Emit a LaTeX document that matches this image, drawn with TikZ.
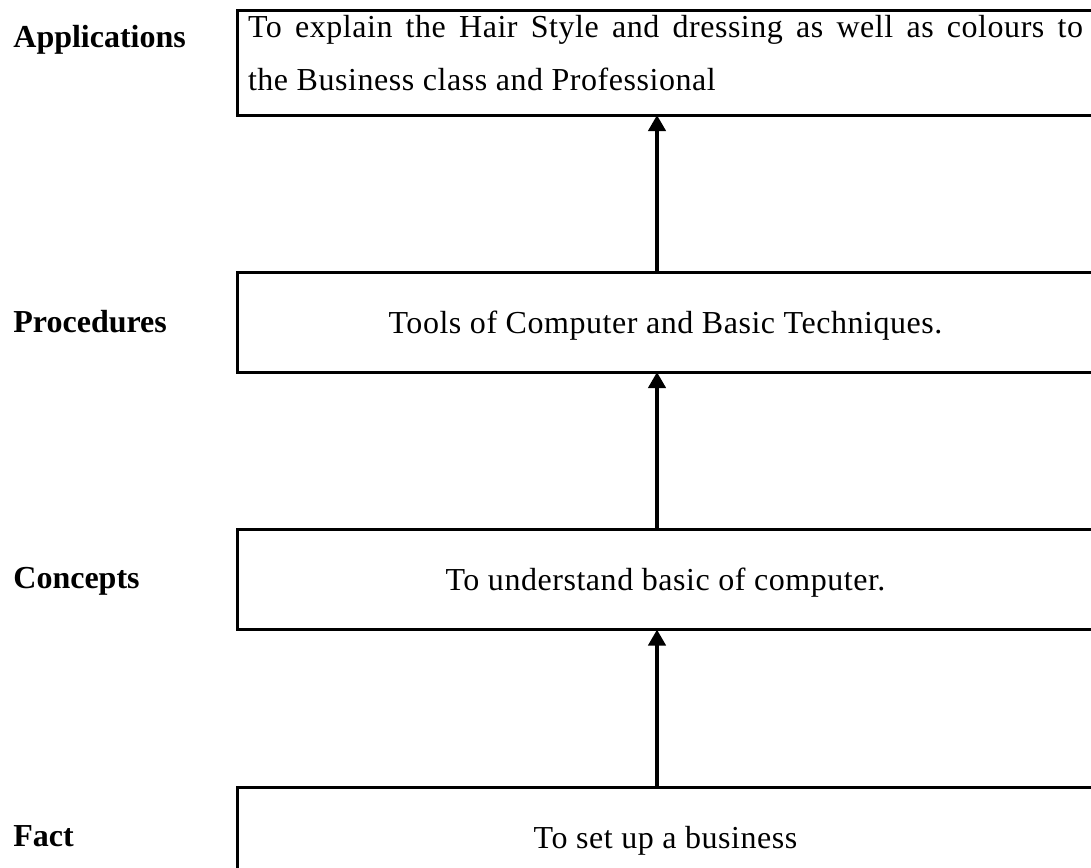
\documentclass[tikz,border=0pt]{standalone}
\usepackage{fontspec}
\setmainfont{Liberation Serif}
\newfontfamily\boxfont{Liberation Serif}[LetterSpace=1.7]
\usetikzlibrary{arrows.meta}

\begin{document}
\begin{tikzpicture}[x=0.5pt, y=-0.5pt, font=\fontsize{16}{26.5}\selectfont,
  box/.style={draw, line width=1.5pt, outer sep=0pt, inner sep=0pt, minimum width=428.5pt, minimum height=50pt,
    text height=11pt, text depth=0pt, font=\fontsize{16}{26.5}\selectfont\boxfont},
  lbl/.style={anchor=base west, inner sep=0pt, font=\fontsize{16}{26.5}\selectfont\bfseries},
  flow/.style={-{Triangle[length=8pt, width=8.5pt]}, line width=2pt}]

\useasboundingbox (0,0) rectangle (1091,867);
\clip (0,0) rectangle (1091,867);

\node [box, anchor=north west, minimum height=0pt, text width=417.5pt, align=justify,
  inner xsep=5.5pt, inner ysep=2.5pt, text height=11pt, text depth=36.5pt] (app) at (237,10)
  {To explain the Hair Style and dressing as well as colours to\linebreak the Business class and Professional};
\node [box] (proc) at (665.5,322) {Tools of Computer and Basic Techniques.};
\node [box] (conc) at (665.5,579.5) {To understand basic of computer.};
\node [box] (fact) at (665.5,837) {To set up a business};

\node [lbl] (lapp) at (13,47) {Applications};
\node [lbl] (lproc) at (13,332) {Procedures};
\node [lbl] (lconc) at (13,588) {Concepts};
\node [lbl] (lfact) at (13,846) {Fact};

\draw [flow] ([xshift=-4.25pt]proc.north) -- ([xshift=-4.25pt]app.south);
\draw [flow] ([xshift=-4.25pt]conc.north) -- ([xshift=-4.25pt]proc.south);
\draw [flow] ([xshift=-4.25pt]fact.north) -- ([xshift=-4.25pt]conc.south);

\end{tikzpicture}
\end{document}
